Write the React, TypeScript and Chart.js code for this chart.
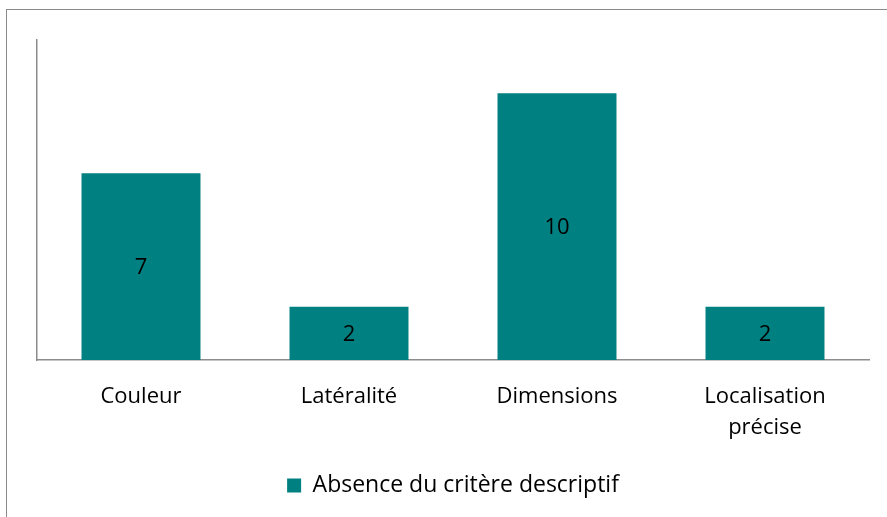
import React, { useEffect, useRef } from "react";
import { Chart, registerables } from "chart.js";

Chart.register(...registerables);

const categories: (string | string[])[] = ["Couleur", "Latéralité", "Dimensions", ["Localisation", "précise"]];
const seriesLabel = "Absence du critère descriptif";
const seriesValues: number[] = [7, 2, 10, 2];
const yMin = 0;
const yMax = 12;

const FONT = "'Open Sans', 'Noto Sans', sans-serif";
const BAR_COLOR = "#008080";
const AXIS_COLOR = "#8c8c8c";

const valueLabels = {
  id: "valueLabels",
  afterDatasetsDraw(chart: any) {
    const ctx = chart.ctx;
    chart.data.datasets.forEach((ds: any, i: number) => {
      const meta = chart.getDatasetMeta(i);
      meta.data.forEach((bar: any, j: number) => {
        const p = bar.getProps(["x", "y", "base"], true);
        ctx.save();
        ctx.font = `22px ${FONT}`;
        ctx.fillStyle = "#000";
        ctx.textAlign = "center";
        ctx.textBaseline = "middle";
        ctx.fillText(String(ds.data[j]), p.x, (p.y + p.base) / 2 + 1);
        ctx.restore();
      });
    });
  },
};

export default function App() {
  const ref = useRef<HTMLCanvasElement | null>(null);
  useEffect(() => {
    if (!ref.current) return;
    const chart = new Chart(ref.current, {
      type: "bar",
      data: {
        labels: categories,
        datasets: [
          {
            label: seriesLabel,
            data: seriesValues,
            backgroundColor: BAR_COLOR,
            borderWidth: 0,
            categoryPercentage: 1,
            barPercentage: 0.572,
          },
        ],
      },
      options: {
        responsive: false,
        animation: false,
        devicePixelRatio: 1,
        layout: { padding: { left: 37, top: 40, right: 18, bottom: 10 } },
        scales: {
          x: {
            grid: { display: false, drawTicks: false },
            border: { display: true, color: AXIS_COLOR, width: 1.5 },
            ticks: {
              padding: 21,
              color: "#000",
              font: { family: FONT, size: 22, lineHeight: 1.41 },
              maxRotation: 0,
              autoSkip: false,
            },
            afterFit: (s: any) => {
              s.height = 104;
            },
          },
          y: {
            min: yMin,
            max: yMax,
            grid: { display: false, drawTicks: false },
            border: { display: true, color: AXIS_COLOR, width: 1.5 },
            ticks: { display: false },
          },
        },
        plugins: {
          legend: {
            position: "bottom",
            labels: {
              color: "#000",
              font: { family: FONT, size: 23 },
              boxWidth: 14,
              boxHeight: 14,
              padding: 10,
            },
          },
          tooltip: { enabled: false },
        },
      },
      plugins: [valueLabels],
    });
    return () => chart.destroy();
  }, []);

  return (
    <div
      style={{
        position: "fixed",
        left: 0,
        top: 0,
        width: 887,
        height: 517,
        overflow: "hidden",
        background: "#fff",
      }}
    >
      <div
        style={{
          position: "absolute",
          left: 6,
          top: 9,
          width: 1000,
          height: 1000,
          borderLeft: "1.5px solid #8a8a8a",
          borderTop: "1.5px solid #8a8a8a",
        }}
      />
      <canvas ref={ref} width={887} height={517} style={{ position: "absolute", left: 0, top: 0 }} />
    </div>
  );
}
